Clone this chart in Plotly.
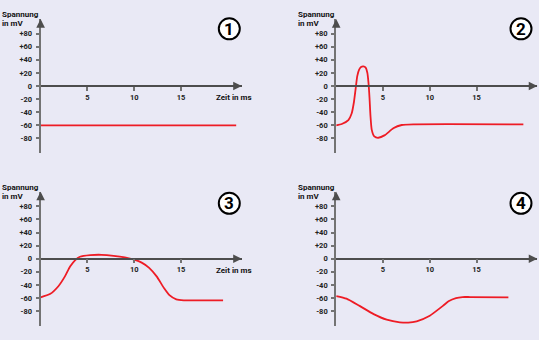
import plotly.graph_objects as go

# Membrane voltage traces: time in ms, voltage in mV
t1 = [0, 20.9]
v1 = [-60, -60]

t2 = [0, 0.6, 1.3, 1.65, 1.9, 2.08, 2.25, 2.45, 2.65, 2.9, 3.15, 3.33, 3.45,
      3.56, 3.66, 3.8, 4.07, 4.5, 5.2, 6.1, 7.0, 8.4, 20.0]
v2 = [-60, -58, -52, -42, -24, -4, 15, 25, 29, 30, 28, 20, 5,
      -18, -45, -67, -77, -79, -75, -64.5, -59.5, -58.5, -58.5]

t3 = [0, 1.0, 1.9, 2.6, 3.15, 3.7, 4.2, 5.3, 6.5, 7.8, 9.0, 10.0, 10.8, 11.6,
      12.4, 13.2, 13.8, 14.5, 15.3, 19.5]
v3 = [-59, -54, -42, -27, -12, -2, 3, 5.5, 6, 4.5, 2, -1.5, -6, -14,
      -27, -45, -56, -62, -63.5, -63.5]

t4 = [0, 1.1, 2.5, 4.0, 5.4, 6.8, 7.7, 8.6, 10.0, 11.4, 12.0, 12.8, 13.5, 14.3, 18.4]
v4 = [-57, -61, -72, -84.5, -93, -97, -97.5, -95.5, -87, -72, -65, -60, -58.5, -58.5, -59]

x_ticks = [5, 10, 15]
y_ticks = [-80, -60, -40, -20, 0, 20, 40, 60, 80]
y_tick_labels = ["-80", "-60", "-40", "-20", "0", "+20", "+40", "+60", "+80"]
panel_labels = ["1", "2", "3", "4"]
y_title = ["Spannung", "in mV"]
x_title = "Zeit in ms"

traces = [(t1, v1), (t2, v2), (t3, v3), (t4, v4)]
show_x_title = [True, False, True, False]

W, H = 539, 340
X_RANGE = [0, 21.5]
Y_RANGE = [-102.7, 102.3]
BG = "#e9e9f5"
RED = "#ee1c25"
Y_AXIS_COLOR = "#737373"
X_AXIS_COLOR = "#4d4d4d"
FONT = "Roboto"


def fx(px):
    return px / W


def fy(py):
    return 1 - py / H


fig = go.Figure()
layout = {}
annotations = []
shapes = []

for i, (t, v) in enumerate(traces):
    n = i + 1
    c, r = i % 2, i // 2
    x0 = 40.6 + 295.6 * c
    x1 = x0 + 201.2
    top = 19 + 172.7 * r
    bottom = 153.3 + 172.7 * r
    zero_py = 86 + 172.7 * r
    xs = "x" if n == 1 else f"x{n}"
    ys = "y" if n == 1 else f"y{n}"
    xk = "xaxis" if n == 1 else f"xaxis{n}"
    yk = "yaxis" if n == 1 else f"yaxis{n}"

    fig.add_trace(go.Scatter(
        x=t, y=v, xaxis=xs, yaxis=ys, mode="lines",
        line=dict(color=RED, width=1.8, shape="spline", smoothing=0.55),
        hoverinfo="skip", showlegend=False,
    ))

    layout[xk] = dict(
        domain=[fx(x0), fx(x1)], range=X_RANGE, anchor="free",
        position=fy(zero_py), showline=True, linecolor=X_AXIS_COLOR,
        linewidth=1.5, ticks="outside", ticklen=4, tickwidth=1.5,
        tickcolor=Y_AXIS_COLOR, tickvals=x_ticks,
        tickfont=dict(family=FONT, size=7.5, color="#222", weight=700),
        showgrid=False, zeroline=False, fixedrange=True,
    )
    layout[yk] = dict(
        domain=[fy(bottom), fy(top)], range=Y_RANGE, anchor=xs,
        showline=True, linecolor=Y_AXIS_COLOR, linewidth=2,
        ticks="outside", ticklen=3, tickwidth=1.5, tickcolor=Y_AXIS_COLOR,
        tickvals=y_ticks, ticktext=y_tick_labels, ticklabelstandoff=2,
        tickfont=dict(family=FONT, size=7.5, color="#222", weight=700),
        showgrid=False, zeroline=False, fixedrange=True,
    )

    # arrow heads on both axes
    annotations.append(dict(
        xref=xs, yref=ys, x=X_RANGE[1], y=0, ax=-8, ay=0, text="",
        showarrow=True, arrowhead=2, arrowsize=1.15, arrowwidth=1.5,
        arrowcolor=X_AXIS_COLOR,
    ))
    annotations.append(dict(
        xref=xs, yref=ys, x=0, y=Y_RANGE[1], ax=0, ay=8, text="",
        showarrow=True, arrowhead=2, arrowsize=1.15, arrowwidth=1.5,
        arrowcolor=X_AXIS_COLOR,
    ))

    # y-axis title, two lines
    for k, line in enumerate(y_title):
        annotations.append(dict(
            xref="paper", yref="paper", x=fx(x0 - 40.5), y=fy(15 + 9 * k + 172.7 * r),
            xanchor="left", yanchor="middle", text=line, showarrow=False,
            font=dict(family=FONT, size=8, color="#111", weight=700),
        ))

    if show_x_title[i]:
        annotations.append(dict(
            xref="paper", yref="paper", x=fx(x0 + 193.4), y=fy(zero_py + 11.7),
            xanchor="center", yanchor="middle", text=x_title, showarrow=False,
            font=dict(family=FONT, size=8, color="#111", weight=700),
        ))

    # circled panel number
    cx = 229.3 + 291.7 * c
    cy = 28.8 + 174.5 * r
    rad = 10.5
    shapes.append(dict(
        type="circle", xref="paper", yref="paper",
        x0=fx(cx - rad), x1=fx(cx + rad), y0=fy(cy + rad), y1=fy(cy - rad),
        line=dict(color="#000", width=2), fillcolor="#fff",
    ))
    annotations.append(dict(
        xref="paper", yref="paper", x=fx(cx), y=fy(cy),
        xanchor="center", yanchor="middle", text=panel_labels[i],
        showarrow=False,
        font=dict(family=FONT, size=17, color="#000", weight=700),
    ))

fig.update_layout(
    width=W, height=H, margin=dict(l=0, r=0, t=0, b=0),
    paper_bgcolor=BG, plot_bgcolor="rgba(0,0,0,0)",
    annotations=annotations, shapes=shapes, showlegend=False,
    **layout,
)

fig.write_html("out.html", config={"displayModeBar": False})
